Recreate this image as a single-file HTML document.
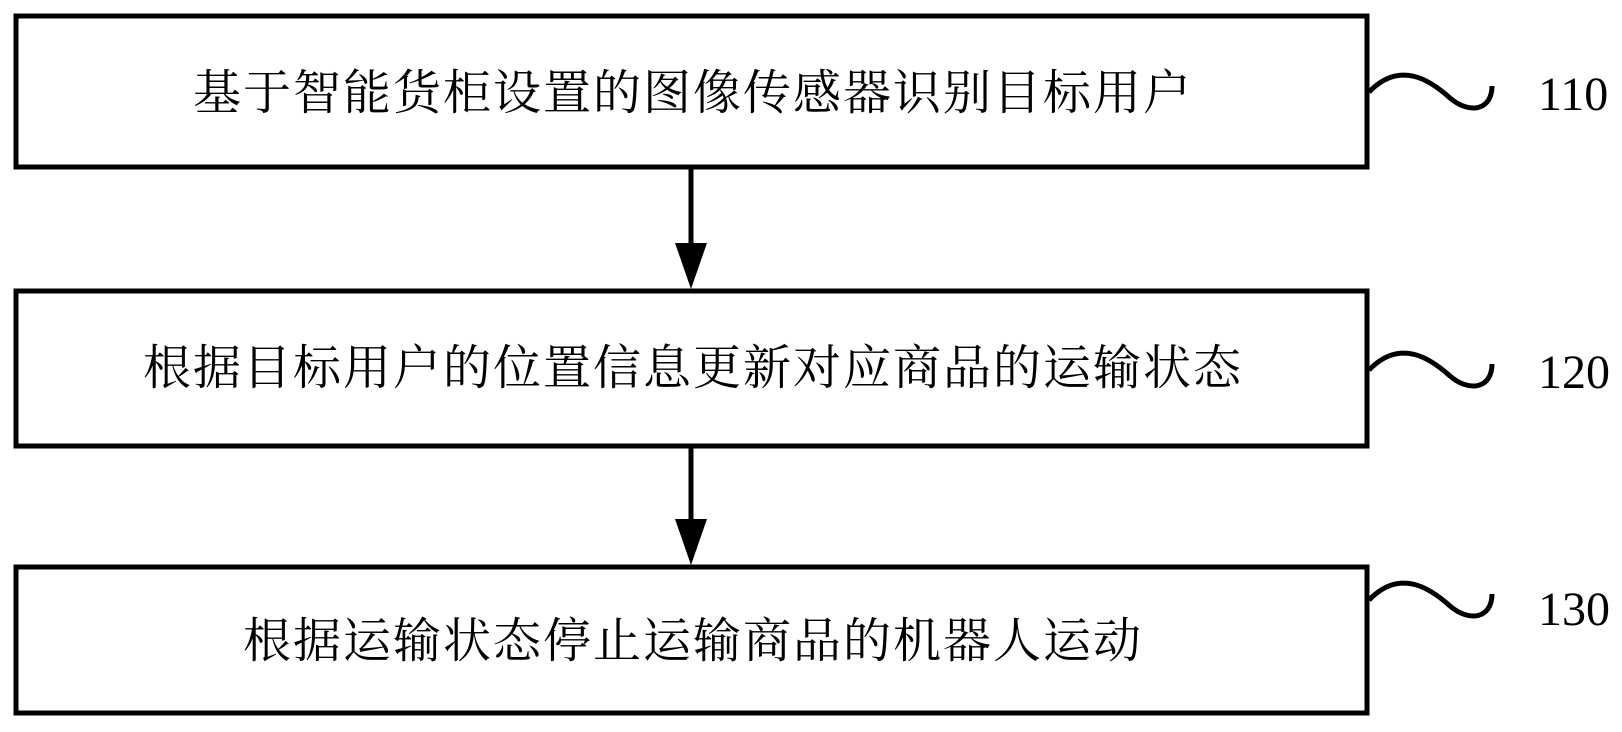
<!DOCTYPE html>
<html><head><meta charset="utf-8"><style>
body{margin:0;background:#fff;width:1622px;height:732px;overflow:hidden;position:relative}
.t{position:absolute;font-family:"Liberation Serif","Noto Serif CJK SC","Noto Sans CJK SC",serif;font-size:48px;letter-spacing:2px;line-height:1;white-space:nowrap;color:#000}
.n{position:absolute;font-family:"Liberation Serif",serif;font-size:48px;line-height:1;color:#000}
</style></head><body>
<svg width="1622" height="732" style="position:absolute;left:0;top:0">
<g fill="none" stroke="#000" stroke-width="5">
<rect x="16" y="16" width="1351" height="151"/>
<rect x="16" y="291" width="1351" height="155"/>
<rect x="16" y="567" width="1351" height="146"/>
<line x1="691" y1="167" x2="691" y2="250"/>
<line x1="691" y1="446" x2="691" y2="525"/>
<path d="M1369 92 C1400 60,1430 80,1450 98 C1470 115,1492 110,1492 86"/>
<path d="M1369 370 C1400 338,1430 358,1450 376 C1470 393,1492 388,1492 364"/>
<path d="M1369 600 C1400 568,1430 588,1450 606 C1470 623,1492 618,1492 594"/>
</g>
<polygon points="675,243 707,243 691,289" fill="#000"/>
<polygon points="675,519 707,519 691,565" fill="#000"/>
</svg>
<div class="t" style="left:193px;top:70px">基于智能货柜设置的图像传感器识别目标用户</div>
<div class="t" style="left:143px;top:345px">根据目标用户的位置信息更新对应商品的运输状态</div>
<div class="t" style="left:243px;top:618px">根据运输状态停止运输商品的机器人运动</div>
<div class="n" style="left:1538px;top:71px">110</div>
<div class="n" style="left:1538px;top:349px">120</div>
<div class="n" style="left:1538px;top:586px">130</div>
</body></html>
